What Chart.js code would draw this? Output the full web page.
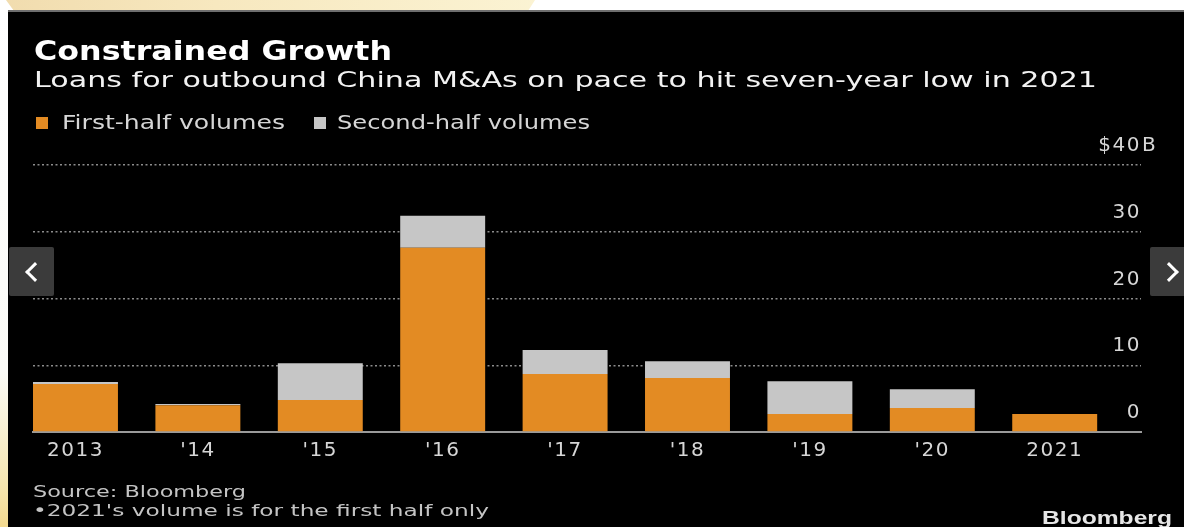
<!DOCTYPE html>
<html>
<head>
<meta charset="utf-8">
<script src="https://cdn.jsdelivr.net/npm/chart.js@4.4.1/dist/chart.umd.min.js"></script>
<style>
  html, body { margin: 0; padding: 0; }
  body { width: 1184px; height: 527px; overflow: hidden; position: relative; background: #fff; font-family: "DejaVu Sans", Verdana, sans-serif; }
  #topband { position: absolute; left: 0; top: 0; width: 540px; height: 11px;
    background: linear-gradient(90deg, #f1dcae 0%, #f7e8bf 40%, #fbf3d3 100%);
    clip-path: polygon(6px 0, 535px 0, 528px 100%, 14px 100%); }
  #leftband { position: absolute; left: 0; top: 11px; width: 8px; height: 516px;
    background: linear-gradient(180deg, #ffffff 0%, #fbfbf7 70%, #f6e6b0 92%, #f3d98f 100%); }
  #panel { position: absolute; left: 8px; top: 10px; right: 0; bottom: 0; background: #000; border-top: 2px solid #6e6e6e; }
  canvas { position: absolute; left: 0; top: 0; }
  .txt { position: absolute; white-space: nowrap; transform-origin: 0 50%; line-height: 1; }
  #title { left: 34px; top: 38px; font-size: 26px; font-weight: bold; color: #fff; }
  #subtitle { left: 34px; top: 69px; font-size: 22px; color: #f2f2f2; }
  .sq { position: absolute; width: 12px; height: 12px; top: 117px; }
  .leg { top: 113px; font-size: 19px; color: #d6d6d6; }
  .src { font-size: 16px; color: #c4c4c4; left: 33px; }
  #logo { left: 1042px; top: 509px; font-family: "Liberation Sans", Arial, sans-serif; font-weight: bold; font-size: 18px; color: #e6e6e6; }
  .nav { position: absolute; top: 247px; height: 49px; background: #3b3b3b; border-radius: 2px; }
  .nav span { position: absolute; top: 18px; width: 11px; height: 11px; border-top: 3px solid #fff; border-left: 3px solid #fff; }
</style>
</head>
<body>
<div id="topband"></div>
<div id="leftband"></div>
<div id="panel"></div>
<canvas id="chart" width="1184" height="527"></canvas>

<div class="txt" id="title" data-w="358">Constrained Growth</div>
<div class="txt" id="subtitle" data-w="1063">Loans for outbound China M&amp;As on pace to hit seven-year low in 2021</div>
<div class="sq" style="left:36px;background:#e38b23"></div>
<div class="txt leg" style="left:62px" data-w="223">First-half volumes</div>
<div class="sq" style="left:314px;background:#c6c6c6"></div>
<div class="txt leg" style="left:337px" data-w="253">Second-half volumes</div>
<div class="txt src" style="top:484px" data-w="213">Source: Bloomberg</div>
<div class="txt src" style="top:503px" data-w="456">•2021's volume is for the first half only</div>
<div class="txt" id="logo" data-w="130">Bloomberg</div>

<div class="nav" style="left:9px;width:45px"><span style="left:19px;transform:rotate(-45deg)"></span></div>
<div class="nav" style="left:1150px;width:40px"><span style="left:12px;transform:rotate(135deg)"></span></div>

<script>
// Données (milliards de dollars)
const years = ["2013", "'14", "'15", "'16", "'17", "'18", "'19", "'20", "2021"];
const firstHalf = [7.2, 4.0, 4.8, 27.6, 8.7, 8.1, 2.7, 3.6, 2.7];
const secondHalf = [0.3, 0.2, 5.5, 4.8, 3.6, 2.5, 4.9, 2.8, 0];
const yTicks = [0, 10, 20, 30, 40];

// étire les textes HTML à la largeur du modèle
document.querySelectorAll('[data-w]').forEach(el => {
  const w = el.getBoundingClientRect().width;
  el.style.transform = 'scaleX(' + (+el.dataset.w / w) + ')';
});

const labelOffset = -19;

// texte des axes un peu plus large
const spacing = {
  id: 'spacing',
  beforeDraw(chart) { chart.ctx.letterSpacing = '1.5px'; }
};

// le "B" de $40B dépasse à droite, comme chez Bloomberg
const unitSuffix = {
  id: 'unitSuffix',
  afterDraw(chart) {
    const y = chart.scales.y;
    const ctx = chart.ctx;
    ctx.save();
    ctx.font = '20px "DejaVu Sans"';
    ctx.fillStyle = '#d6d6d6';
    ctx.textAlign = 'left';
    ctx.textBaseline = 'middle';
    ctx.fillText('B', chart.chartArea.right + 1, y.getPixelForValue(yTicks[yTicks.length - 1]) + labelOffset);
    ctx.restore();
  }
};

const ctx = document.getElementById('chart').getContext('2d');
new Chart(ctx, {
  type: 'bar',
  data: {
    datasets: [
      {
        label: 'First-half volumes',
        data: firstHalf.map((v, i) => ({ x: i, y: v })),
        backgroundColor: '#e38b23'
      },
      {
        label: 'Second-half volumes',
        data: secondHalf.map((v, i) => ({ x: i, y: v })),
        backgroundColor: '#c6c6c6'
      }
    ]
  },
  options: {
    responsive: false,
    animation: false,
    barPercentage: 1,
    categoryPercentage: 0.694,
    layout: { padding: { left: 33, right: 43, top: 165, bottom: 57 } },
    plugins: { legend: { display: false }, tooltip: { enabled: false } },
    scales: {
      x: {
        type: 'linear',
        offset: false,
        stacked: true,
        min: -0.347,
        max: 8.705,
        grid: { display: false, drawTicks: false },
        border: { display: true, color: '#9a9a9a', width: 2 },
        ticks: {
          stepSize: 1,
          includeBounds: false,
          autoSkip: false,
          maxRotation: 0,
          padding: 7,
          color: '#d6d6d6',
          font: { family: 'DejaVu Sans', size: 20 },
          callback: v => (Number.isInteger(v) && years[v] !== undefined ? years[v] : '')
        }
      },
      y: {
        position: 'right',
        stacked: true,
        min: 0,
        max: 40,
        afterBuildTicks: axis => { axis.ticks = yTicks.map(v => ({ value: v })); },
        grid: {
          color: c => (c.tick && c.tick.value === 0 ? 'rgba(0,0,0,0)' : '#8c8c8c'),
          lineWidth: 1.5,
          drawTicks: false
        },
        border: { display: false, dash: [2, 2.5] },
        ticks: {
          mirror: true,
          padding: 0,
          labelOffset: labelOffset,
          color: '#d6d6d6',
          font: { family: 'DejaVu Sans', size: 20 },
          callback: v => (v === 40 ? '$' + v : v)
        }
      }
    }
  },
  plugins: [spacing, unitSuffix]
});
</script>
</body>
</html>
